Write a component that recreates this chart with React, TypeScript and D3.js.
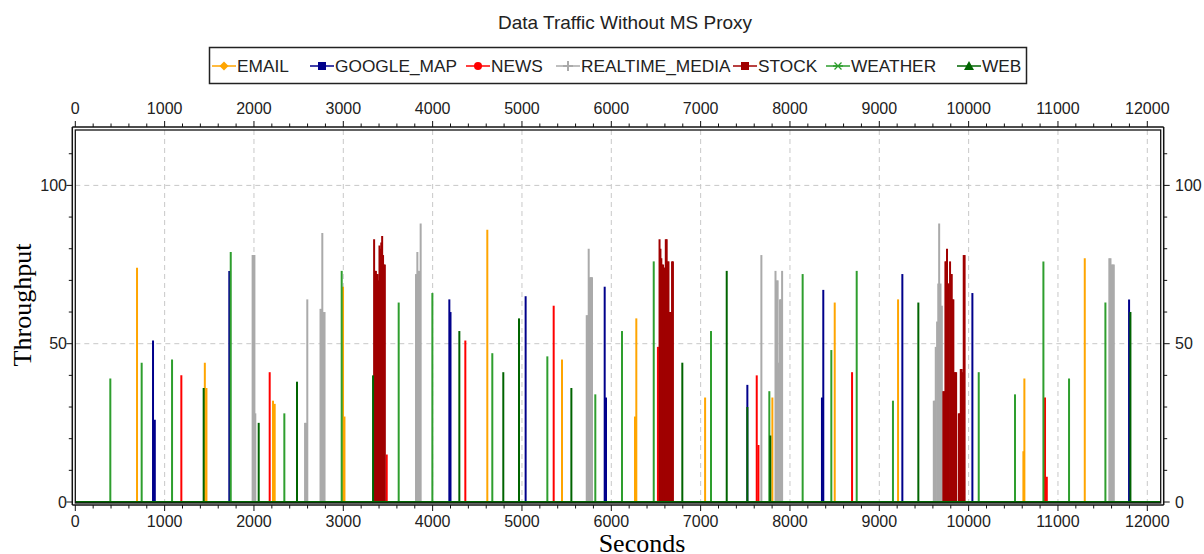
import React from "react";
import * as d3 from "d3";

// ---------- data ----------
const seriesNames = ["EMAIL", "GOOGLE_MAP", "NEWS", "REALTIME_MEDIA", "STOCK", "WEATHER", "WEB"];

const emailData: [number, number][] = [
  [691, 74], [1450, 44], [1468, 36], [2213, 32], [2232, 31], [2997, 68], [3013, 27],
  [4612, 86], [5448, 45], [6265, 27], [6280, 58], [7050, 33], [7803, 33], [8501, 63],
  [9210, 64], [10613, 16], [10624, 39], [11300, 77],
];

const googleMapData: [number, number][] = [
  [870, 51], [890, 26], [1724, 73], [4187, 64], [4200, 60], [5041, 65], [5926, 68],
  [5941, 33], [6650, 35], [7523, 37], [8358, 33], [8373, 67], [9258, 72], [10042, 66],
  [11796, 64],
];

const newsData: [number, number][] = [
  [1187, 40], [2176, 41], [3385, 4], [3486, 15], [4366, 51], [5355, 62], [6522, 49],
  [7628, 40], [7647, 18], [8695, 41], [9791, 3], [10855, 33], [10875, 8],
];

const realtimeMediaData: [number, number][] = [
  [1985, 78], [1995, 78], [2005, 78], [2015, 28],
  [2572, 25], [2585, 25], [2597, 64],
  [2745, 61], [2755, 61], [2765, 85], [2778, 60], [2790, 60],
  [3814, 72], [3829, 79], [3840, 73], [3850, 73], [3866, 88],
  [5725, 59], [5735, 59], [5747, 80], [5760, 71], [5772, 71], [5784, 71],
  [7680, 78],
  [7838, 73], [7850, 70], [7862, 70], [7875, 44], [7888, 64], [7900, 64], [7912, 73],
  [9610, 32], [9622, 32], [9632, 49], [9647, 57], [9660, 69], [9670, 88], [9685, 69], [9700, 62],
  [11575, 77], [11588, 77], [11600, 75], [11612, 75], [11625, 75],
];

const stockData: [number, number][] = [
  [3345, 83], [3355, 73], [3365, 73], [3375, 72], [3385, 72], [3395, 70], [3405, 81],
  [3415, 80], [3425, 82], [3435, 84], [3445, 78], [3455, 75], [3465, 75],
  [6540, 83], [6550, 80], [6560, 77], [6570, 75], [6580, 75], [6590, 74], [6600, 74],
  [6610, 83], [6620, 83], [6630, 76], [6640, 76], [6650, 60], [6660, 60], [6670, 60],
  [6680, 76], [6690, 76],
  [9717, 35], [9728, 35], [9740, 76], [9750, 76], [9758, 80], [9768, 69], [9777, 69],
  [9792, 76], [9802, 72], [9811, 72], [9820, 64], [9829, 64], [9840, 41], [9850, 41],
  [9860, 41], [9890, 28], [9900, 28], [9912, 42], [9922, 42], [9933, 41], [9945, 78],
  [9955, 78],
];

const weatherData: [number, number][] = [
  [392, 39], [743, 44], [1083, 45], [1740, 79], [2340, 28], [2982, 73], [3620, 63],
  [3997, 66], [4668, 47], [5284, 46], [5821, 34], [6120, 54], [6475, 76], [7116, 54],
  [7769, 35], [8142, 72], [8463, 48], [8747, 73], [9153, 32], [10113, 41], [10519, 34],
  [10837, 76], [11124, 39], [11531, 63],
];

const webData: [number, number][] = [
  [1437, 36], [2053, 25], [2482, 38], [3333, 40], [4299, 54], [4791, 41], [4967, 58],
  [5553, 36], [6795, 44], [7292, 73], [7523, 30], [7780, 21], [9437, 63], [11811, 60],
];

const seriesData = [emailData, googleMapData, newsData, realtimeMediaData, stockData, weatherData, webData];

const xMajorTicks = [0, 1000, 2000, 3000, 4000, 5000, 6000, 7000, 8000, 9000, 10000, 11000, 12000];
const yMajorTicks = [0, 50, 100];

// ---------- styles ----------
const colors = ["#FFA500", "#00008B", "#FF0000", "#AAAAAA", "#A00000", "#2E9E2E", "#006400"];
const markers = ["diamond", "square", "circle", "plus", "square", "star", "triangle"];
const legendX = [212, 310, 466, 556, 733, 826, 957];

const W = 1204;
const H = 554;
const L = 75.3, R = 1160.7, T = 130, B = 502;

function Marker({ kind, cx, cy, color }: { kind: string; cx: number; cy: number; color: string }) {
  const s = 4.5;
  switch (kind) {
    case "diamond":
      return <path d={`M${cx},${cy - s} L${cx + s},${cy} L${cx},${cy + s} L${cx - s},${cy} Z`} fill={color} />;
    case "square":
      return <rect x={cx - 4} y={cy - 4} width={8} height={8} fill={color} />;
    case "circle":
      return <circle cx={cx} cy={cy} r={4} fill={color} />;
    case "plus":
      return <path d={`M${cx - 5},${cy} H${cx + 5} M${cx},${cy - 5} V${cy + 5}`} stroke={color} strokeWidth={2} />;
    case "star":
      return (
        <path
          d={`M${cx - 5},${cy} H${cx + 5} M${cx - 3.5},${cy - 3.5} L${cx + 3.5},${cy + 3.5} M${cx - 3.5},${cy + 3.5} L${cx + 3.5},${cy - 3.5}`}
          stroke={color}
          strokeWidth={1.3}
        />
      );
    case "triangle":
      return <path d={`M${cx},${cy - 5} L${cx + 5},${cy + 4} L${cx - 5},${cy + 4} Z`} fill={color} />;
    default:
      return null;
  }
}

export default function App() {
  const x = d3.scaleLinear().domain([0, 12150]).range([L, R]);
  const y = d3.scaleLinear().domain([0, 117.5]).range([B, T]);
  const xMinor = d3.range(0, 12150, 200);
  const yMinor = d3.range(0, 117.5, 10);

  const tickFont = { fontFamily: "'Liberation Sans', Arial, sans-serif", fontSize: 16, fill: "#222" };

  return (
    <svg width={W} height={H} style={{ display: "block", position: "absolute", left: 0, top: 0 }}>
      <rect x={0} y={0} width={W} height={H} fill="#fff" />
      {/* title */}
      <text x={625} y={29} textAnchor="middle" fontFamily="'Liberation Sans', Arial, sans-serif" fontSize={19} fill="#222">
        Data Traffic Without MS Proxy
      </text>

      {/* legend */}
      <rect x={209.5} y={47.5} width={817} height={36} fill="#fff" stroke="#222" strokeWidth={1.5} />
      {seriesNames.map((name, i) => (
        <g key={name}>
          <line x1={legendX[i]} x2={legendX[i] + 24} y1={66} y2={66} stroke={colors[i]} strokeWidth={1.5} />
          <Marker kind={markers[i]} cx={legendX[i] + 12} cy={66} color={colors[i]} />
          <text x={legendX[i] + 25} y={72} fontFamily="'Liberation Sans', Arial, sans-serif" fontSize={17.3} fill="#222">
            {name}
          </text>
        </g>
      ))}

      {/* grid */}
      {xMajorTicks.filter((t) => t > 0).map((t) => (
        <line key={"gx" + t} x1={x(t)} x2={x(t)} y1={T} y2={B} stroke="#c8c8c8" strokeDasharray="5,4" strokeWidth={1} />
      ))}
      {yMajorTicks.filter((t) => t > 0).map((t) => (
        <line key={"gy" + t} x1={L} x2={R} y1={y(t)} y2={y(t)} stroke="#c8c8c8" strokeDasharray="5,4" strokeWidth={1} />
      ))}

      {/* series spikes */}
      <defs>
        <clipPath id="plotclip">
          <rect x={L} y={T} width={R - L} height={B - T + 1} />
        </clipPath>
      </defs>
      <g clipPath="url(#plotclip)">
        {seriesData.map((data, i) => (
          <g key={"s" + i} stroke={colors[i]} strokeWidth={2}>
            <line x1={L} x2={R} y1={y(0)} y2={y(0)} />
            {data.map(([t, v], j) => (
              <line key={j} x1={x(t)} x2={x(t)} y1={y(0)} y2={y(v)} />
            ))}
          </g>
        ))}
      </g>

      {/* frame */}
      <rect x={L} y={T} width={R - L} height={B - T + 1} fill="none" stroke="#111" strokeWidth={1.3} />
      {/* axis lines */}
      <line x1={L - 3} x2={L - 3} y1={T - 3} y2={B + 3} stroke="#111" strokeWidth={1.5} />
      <line x1={R + 3} x2={R + 3} y1={T - 3} y2={B + 3} stroke="#111" strokeWidth={1.5} />
      <line x1={L - 3} x2={R + 3} y1={T - 3} y2={T - 3} stroke="#111" strokeWidth={1.5} />
      <line x1={L - 3} x2={R + 3} y1={B + 3} y2={B + 3} stroke="#111" strokeWidth={1.5} />

      {/* x ticks */}
      {xMinor.map((t) => {
        const major = t % 1000 === 0;
        const len = major ? 6 : 3.5;
        return (
          <g key={"xt" + t} stroke="#111" strokeWidth={1}>
            <line x1={x(t)} x2={x(t)} y1={B + 3} y2={B + 3 + len} />
            <line x1={x(t)} x2={x(t)} y1={T - 3} y2={T - 3 - len} />
          </g>
        );
      })}
      {xMajorTicks.map((t) => (
        <g key={"xl" + t}>
          <text x={x(t)} y={527} textAnchor="middle" {...tickFont}>{t}</text>
          <text x={x(t)} y={114} textAnchor="middle" {...tickFont}>{t}</text>
        </g>
      ))}

      {/* y ticks */}
      {yMinor.map((t) => {
        const major = t % 50 === 0;
        const len = major ? 6 : 3.5;
        return (
          <g key={"yt" + t} stroke="#111" strokeWidth={1}>
            <line x1={L - 3} x2={L - 3 - len} y1={y(t)} y2={y(t)} />
            <line x1={R + 3} x2={R + 3 + len} y1={y(t)} y2={y(t)} />
          </g>
        );
      })}
      {yMajorTicks.map((t) => (
        <g key={"yl" + t}>
          <text x={67} y={y(t) + 5.5} textAnchor="end" {...tickFont}>{t}</text>
          <text x={1175} y={y(t) + 5.5} textAnchor="start" {...tickFont}>{t}</text>
        </g>
      ))}

      {/* axis titles */}
      <text
        transform={`translate(31,305) rotate(-90)`}
        textAnchor="middle"
        fontFamily="'Liberation Serif', 'Times New Roman', serif"
        fontSize={26}
        fill="#000"
      >
        Throughput
      </text>
      <text x={642} y={552} textAnchor="middle" fontFamily="'Liberation Serif', 'Times New Roman', serif" fontSize={26} fill="#000">
        Seconds
      </text>
    </svg>
  );
}
